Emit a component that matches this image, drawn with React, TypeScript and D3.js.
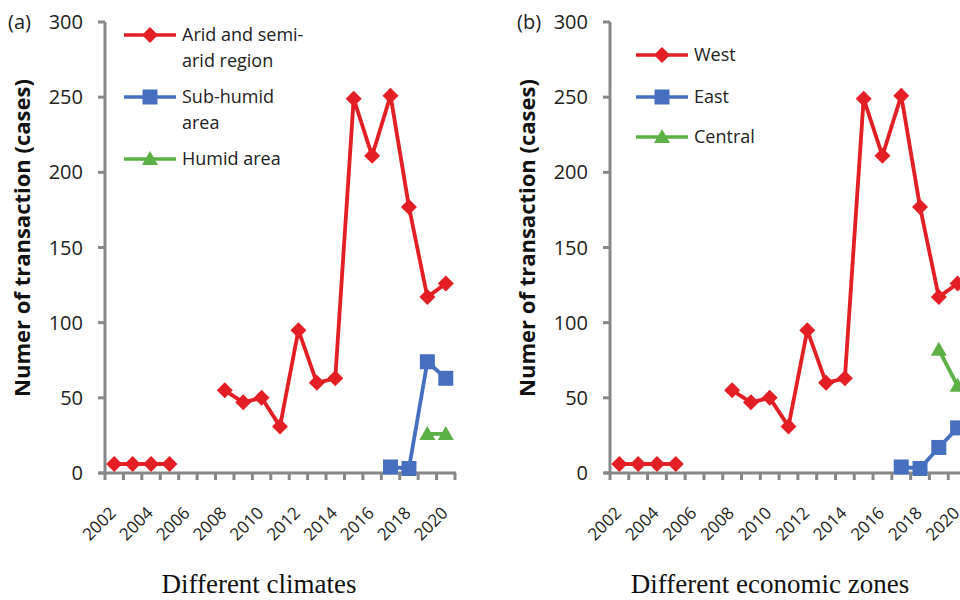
import React from "react";
import * as d3 from "d3";

const years = [2002, 2003, 2004, 2005, 2006, 2007, 2008, 2009, 2010, 2011, 2012, 2013, 2014, 2015, 2016, 2017, 2018, 2019, 2020];
const tickYears = [2002, 2004, 2006, 2008, 2010, 2012, 2014, 2016, 2018, 2020];
const yTicks = [0, 50, 100, 150, 200, 250, 300];

const aridValues: (number | null)[] = [6, 6, 6, 6, null, null, 55, 47, 50, 31, 95, 60, 63, 249, 211, 251, 177, 117, 126];
const subHumidValues: (number | null)[] = [null, null, null, null, null, null, null, null, null, null, null, null, null, null, null, 4, 3, 74, 63];
const humidValues: (number | null)[] = [null, null, null, null, null, null, null, null, null, null, null, null, null, null, null, null, null, 26, 26];

const westValues: (number | null)[] = [6, 6, 6, 6, null, null, 55, 47, 50, 31, 95, 60, 63, 249, 211, 251, 177, 117, 126];
const eastValues: (number | null)[] = [null, null, null, null, null, null, null, null, null, null, null, null, null, null, null, 4, 3, 17, 30];
const centralValues: (number | null)[] = [null, null, null, null, null, null, null, null, null, null, null, null, null, null, null, null, null, 82, 58];

const RED = "#e31e24";
const BLUE = "#4670bf";
const GREEN = "#5cb046";
const AXIS = "#878787";
const FONT = "'Open Sans', sans-serif";

type Series = { name: string[]; values: (number | null)[]; color: string; shape: "diamond" | "square" | "triangle" };

function Marker({ shape, x, y, color }: { shape: string; x: number; y: number; color: string }) {
  if (shape === "diamond") {
    const r = 8;
    return <path d={`M${x},${y - r}L${x + r},${y}L${x},${y + r}L${x - r},${y}Z`} fill={color} />;
  }
  if (shape === "square") {
    const r = 7.5;
    return <rect x={x - r} y={y - r} width={2 * r} height={2 * r} fill={color} />;
  }
  const r = 8;
  return <path d={`M${x},${y - r}L${x + r},${y + r * 0.75}L${x - r},${y + r * 0.75}Z`} fill={color} />;
}

function Panel({ x0, x1, tag, tagX, title, titleX, series, legend }: {
  x0: number; x1: number; tag: string; tagX: number; title: string; titleX: number; series: Series[];
  legend: { lx: number; ys: number[] };
}) {
  const y = d3.scaleLinear().domain([0, 300]).range([473, 22]);
  const x = d3.scaleBand<number>().domain(years).range([x0, x1]);
  const cx = (yr: number) => (x(yr) as number) + x.bandwidth() / 2;
  const line = d3.line<[number, number | null]>()
    .defined((d) => d[1] !== null)
    .x((d) => cx(d[0]))
    .y((d) => y(d[1] as number));
  const tickPositions = [...years.map((yr) => x(yr) as number), x1];
  return (
    <g>
      <text x={tagX} y={29} fontSize={20} fontFamily={FONT} fill="#222">{tag}</text>
      {/* y axis */}
      <line x1={x0} x2={x0} y1={y(300)} y2={y(0)} stroke={AXIS} strokeWidth={3} />
      {yTicks.map((t) => (
        <g key={t}>
          <line x1={x0 - 7} x2={x0} y1={y(t)} y2={y(t)} stroke={AXIS} strokeWidth={3} />
          <text x={x0 - 22} y={y(t)} dy="0.35em" textAnchor="end" fontSize={20} fontFamily={FONT} fill="#222">{t}</text>
        </g>
      ))}
      <text transform={`translate(${x0 - 75},${238}) rotate(-90)`} textAnchor="middle" fontSize={22} fontWeight="bold" fontFamily={FONT} fill="#111">Numer of transaction (cases)</text>
      {/* x axis */}
      <line x1={x0 - 6} x2={x1 + 1} y1={y(0)} y2={y(0)} stroke={AXIS} strokeWidth={3} />
      {tickPositions.map((p, i) => (
        <line key={i} x1={p} x2={p} y1={y(0)} y2={y(0) + 7} stroke={AXIS} strokeWidth={3} />
      ))}
      {tickYears.map((yr) => (
        <text key={yr} transform={`translate(${cx(yr) + 3},${y(0) + 41}) rotate(-45)`} textAnchor="end" fontSize={17} fontFamily={FONT} fill="#222">{yr}</text>
      ))}
      <text x={titleX} y={593} textAnchor="middle" fontSize={27} fontFamily="'Liberation Serif', 'Times New Roman', serif" fill="#111">{title}</text>
      {/* series */}
      {series.map((s) => {
        const pts = years.map((yr, i) => [yr, s.values[i]] as [number, number | null]);
        return (
          <g key={s.name.join(" ")}>
            <path d={line(pts) || ""} fill="none" stroke={s.color} strokeWidth={3.8} strokeLinejoin="round" />
            {pts.filter((p) => p[1] !== null).map((p) => (
              <Marker key={p[0]} shape={s.shape} x={cx(p[0])} y={y(p[1] as number)} color={s.color} />
            ))}
          </g>
        );
      })}
      {/* legend */}
      {series.map((s, i) => (
        <g key={"lg" + i}>
          <line x1={legend.lx} x2={legend.lx + 52} y1={legend.ys[i]} y2={legend.ys[i]} stroke={s.color} strokeWidth={3.5} />
          <Marker shape={s.shape} x={legend.lx + 26} y={legend.ys[i]} color={s.color} />
          {s.name.map((n, j) => (
            <text key={j} x={legend.lx + 58} y={legend.ys[i] + j * 26} dy="0.35em" fontSize={18} fontFamily={FONT} fill="#222">{n}</text>
          ))}
        </g>
      ))}
    </g>
  );
}

export default function App() {
  const left: Series[] = [
    { name: ["Arid and semi-", "arid region"], values: aridValues, color: RED, shape: "diamond" },
    { name: ["Sub-humid", "area"], values: subHumidValues, color: BLUE, shape: "square" },
    { name: ["Humid area"], values: humidValues, color: GREEN, shape: "triangle" },
  ];
  const right: Series[] = [
    { name: ["West"], values: westValues, color: RED, shape: "diamond" },
    { name: ["East"], values: eastValues, color: BLUE, shape: "square" },
    { name: ["Central"], values: centralValues, color: GREEN, shape: "triangle" },
  ];
  return (
    <svg width={960} height={600} style={{ position: "absolute", left: 0, top: 0, background: "#fff" }}>
      <rect width={960} height={600} fill="#fff" />
      <Panel x0={105} x1={455} tag="(a)" tagX={8} title="Different climates" titleX={259} series={left} legend={{ lx: 124, ys: [35, 97, 159] }} />
      <Panel x0={610} x1={967} tag="(b)" tagX={517} title="Different economic zones" titleX={770} series={right} legend={{ lx: 636, ys: [55, 97, 137] }} />
    </svg>
  );
}
